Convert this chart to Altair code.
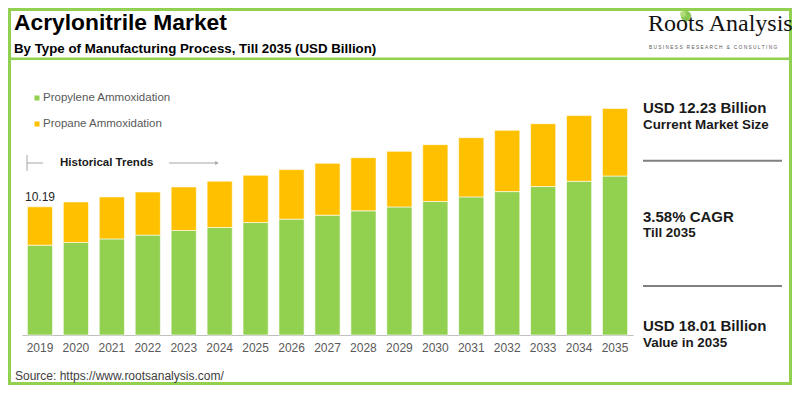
import altair as alt
import pandas as pd

years = [str(y) for y in range(2019, 2036)]
propylene = [7.14, 7.36, 7.64, 7.94, 8.31, 8.55, 8.94, 9.21, 9.52, 9.87, 10.18, 10.61, 10.98, 11.40, 11.80, 12.22, 12.64]
propane = [3.05, 3.22, 3.34, 3.43, 3.46, 3.68, 3.76, 3.94, 4.13, 4.23, 4.42, 4.52, 4.71, 4.87, 5.00, 5.22, 5.37]
series = ["Propylene Ammoxidation", "Propane Ammoxidation"]
colors = ["#92D050", "#FFC000"]
first_label = "10.19"

title = "Acrylonitrile Market"
subtitle = "By Type of Manufacturing Process, Till 2035 (USD Billion)"
source = "Source: https://www.rootsanalysis.com/"
panel = [("USD 12.23 Billion", "Current Market Size"), ("3.58% CAGR", "Till 2035"), ("USD 18.01 Billion", "Value in 2035")]
tagline = "BUSINESS RESEARCH & CONSULTING"

FONT = "Liberation Sans, Arial, sans-serif"

rows = []
for i, y in enumerate(years):
    rows.append({"year": y, "process": series[0], "value": propylene[i], "ord": 0})
    rows.append({"year": y, "process": series[1], "value": propane[i], "ord": 1})
df = pd.DataFrame(rows)
tot = pd.DataFrame({"year": years, "total": [a + b for a, b in zip(propylene, propane)]})

W, H = 611, 239
one = alt.Data(values=[{}])


def txt(text, x, y, size, bold=False, color="#000000", align="left", font=FONT, baseline="middle"):
    return alt.Chart(one).mark_text(text=text, align=align, baseline=baseline, fontSize=size,
                                    fontWeight="bold" if bold else "normal", color=color,
                                    font=font).encode(x=alt.value(x), y=alt.value(y))


def hline(x1, x2, y, color, width):
    return alt.Chart(one).mark_rule(color=color, strokeWidth=width).encode(
        x=alt.value(x1), x2=alt.value(x2), y=alt.value(y))


def vline(x, y1, y2, color, width):
    return alt.Chart(one).mark_rule(color=color, strokeWidth=width).encode(
        x=alt.value(x), y=alt.value(y1), y2=alt.value(y2))


xscale = alt.Scale(paddingInner=0.3, paddingOuter=0.15)
yscale = alt.Scale(domain=[0, 19], nice=False, zero=True)

bars = alt.Chart(df).mark_bar(stroke="#ffffff", strokeWidth=0.6).encode(
    x=alt.X("year:O", scale=xscale, sort=years,
            axis=alt.Axis(title=None, labelAngle=0, ticks=False, domainColor="#bfbfbf",
                          labelColor="#595959", labelFontSize=12, labelFont=FONT, labelPadding=7,
                          domainWidth=1)),
    y=alt.Y("value:Q", stack="zero", scale=yscale, axis=None),
    color=alt.Color("process:N", scale=alt.Scale(domain=series, range=colors), legend=None),
    order=alt.Order("ord:Q"),
)

lab = alt.Chart(tot.iloc[[0]]).mark_text(text=first_label, baseline="bottom", dy=-3, fontSize=12,
                                         font=FONT, color="#262626").encode(
    x=alt.X("year:O", sort=years, scale=xscale), y=alt.Y("total:Q", scale=yscale))

frame = alt.Chart(one).mark_rect(fillOpacity=0, stroke="#92D050", strokeWidth=3).encode(
    x=alt.value(-12.5), x2=alt.value(768.5), y=alt.value(-86.5), y2=alt.value(287.5))

layers = [frame, bars, lab]
layers.append(hline(-14, 770, -37.3, "#92D050", 2.5))
layers.append(txt(title, -8, -66, 22.8, bold=True, baseline="alphabetic"))
layers.append(txt(subtitle, -8, -43.5, 13.3, bold=True, baseline="alphabetic"))

# logo
layers.append(vline(664, -78, -70, "#8aa86a", 1.5))
layers.append(alt.Chart(one).mark_point(filled=True, color="#7dc142", size=110, opacity=0.9).encode(
    x=alt.value(664), y=alt.value(-80)))
layers.append(alt.Chart(one).mark_point(filled=True, color="#b5dd7a", size=35, opacity=0.9).encode(
    x=alt.value(661), y=alt.value(-82)))
layers.append(txt("Roots Analysis", 626, -65, 24, color="#111111", font="Liberation Serif, Times New Roman, serif",
                  baseline="alphabetic"))
spaced = "\u00a0\u00a0\u00a0".join("\u00a0".join(w) for w in tagline.split(" "))
layers.append(txt(spaced, 627, -48, 4.8, color="#595959"))

# legend
for i, (s, c) in enumerate(zip(series, colors)):
    yy = 2 + 26 * i
    layers.append(alt.Chart(one).mark_square(filled=True, color=c, size=25, opacity=1).encode(
        x=alt.value(15), y=alt.value(yy)))
    layers.append(txt(s, 21, yy, 11.5, color="#595959"))

# historical trends
layers.append(vline(5, 59, 75, "#a6a6a6", 1))
layers.append(hline(5, 21, 67, "#a6a6a6", 1))
layers.append(txt("Historical Trends", 38, 67, 11.5, bold=True, color="#1a1a1a"))
layers.append(hline(147, 194, 67, "#a6a6a6", 1))
layers.append(alt.Chart(one).mark_point(shape="triangle-right", filled=True, color="#a6a6a6", size=18, opacity=1).encode(
    x=alt.value(195), y=alt.value(67)))

# right panel
py = [12, 120.7, 230]
for (a, b), yy in zip(panel, py):
    layers.append(txt(a, 621, yy, 15, bold=True, color="#1a1a1a"))
    layers.append(txt(b, 621, yy + 16.5, 13.4, bold=True, color="#1a1a1a"))
layers.append(hline(621, 760, 64.7, "#808080", 2))
layers.append(hline(621, 760, 190, "#808080", 2))

layers.append(txt(source, -7, 280, 12, color="#404040"))

chart = alt.layer(*layers).properties(
    width=W, height=H,
    autosize=alt.AutoSizeParams(type="none"),
    padding={"left": 14, "top": 88, "right": 159, "bottom": 50},
).configure_view(stroke=None)

chart.save("out.html", embed_options={"renderer": "svg", "actions": False})
